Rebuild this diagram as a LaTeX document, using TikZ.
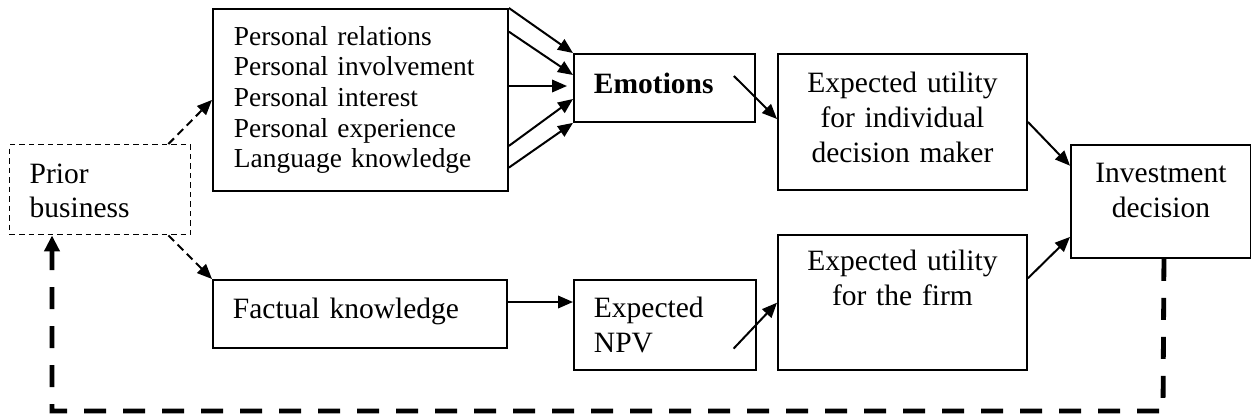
\documentclass[tikz,border=0pt]{standalone}
\usepackage{fontspec}
\setmainfont{Liberation Serif}
\usetikzlibrary{arrows.meta}
\newcommand{\mainfs}{\fontsize{29.5}{34.7}\selectfont}
\newcommand{\listfs}{\fontsize{27.4}{30.6}\selectfont}
\tikzset{
  box/.style={draw, line width=1.9pt, anchor=north west, inner ysep=0pt, font=\mainfs},
  dbox/.style={box, line width=1.4pt, dash pattern=on 5.5pt off 4pt},
  arr/.style={line width=2pt, -{Triangle[length=15pt,width=12.5pt]}},
  darr/.style={arr, dash pattern=on 8pt off 5pt},
  fb/.style={line width=4.8pt, dash pattern=on 22pt off 17pt, -{Triangle[length=16pt,width=15pt]}}
}
\begin{document}
\begin{tikzpicture}[x=1pt,y=-1pt]
\useasboundingbox (0,0) rectangle (1251,418);
% boxes
\node[box, font=\listfs, inner xsep=21pt, text width=253pt, align=left, text height=36.3pt, text depth=145.7pt] (pers) at (212,8)
  {Personal relations\\Personal involvement\\Personal interest\\Personal experience\\Language knowledge};
\node[box, inner xsep=20pt, text width=141pt, align=left, text height=39.7pt, text depth=28.3pt] (emo) at (573,53)
  {\textbf{Emotions}};
\node[box, inner xsep=10pt, text width=229pt, align=center, text height=38.7pt, text depth=97.3pt] (ind) at (777,53)
  {Expected utility\\for individual\\decision maker};
\node[box, inner xsep=10pt, text width=160pt, align=center, text height=37.7pt, text depth=75.3pt] (inv) at (1070,144)
  {Investment\\decision};
\node[box, inner xsep=10pt, text width=229pt, align=center, text height=36pt, text depth=99pt] (firm) at (777,234)
  {Expected utility\\for the firm};
\node[box, inner xsep=20pt, text width=142pt, align=left, text height=37.7pt, text depth=52.3pt] (npv) at (573,279)
  {Expected\\NPV};
\node[box, inner xsep=20pt, text width=254pt, align=left, text height=38.3pt, text depth=29.7pt] (fact) at (212,279)
  {Factual knowledge};
\node[dbox, inner xsep=20pt, text width=141pt, align=left, text height=38.3pt, text depth=51.7pt] (prior) at (9,144)
  {Prior\\business};
% dashed arrows from prior business
\draw[darr] ([xshift=-23pt]prior.north east) -- (pers.west);
\draw[darr] ([xshift=-23pt]prior.south east) -- (fact.north west);
% personal factors to emotions
\draw[arr] (pers.north east) -- (emo.north west);
\draw[arr] ([yshift=-23.7pt]pers.north east) -- ([yshift=-22pt]emo.north west);
\draw[arr] ([yshift=-78pt]pers.north east) -- ([xshift=-6pt,yshift=-33pt]emo.north west);
\draw[arr] ([yshift=46pt]pers.south east) -- ([yshift=-46pt]emo.north west);
\draw[arr] ([yshift=24.3pt]pers.south east) -- (emo.south west);
% emotions to utility
\draw[arr] ([xshift=-22pt,yshift=-23pt]emo.north east) -- ([yshift=-66pt]ind.north west);
\draw[arr] (ind.east) -- ([yshift=-21.7pt]inv.north west);
\draw[arr] ([yshift=-44.3pt]firm.north east) -- ([yshift=22pt]inv.south west);
\draw[arr] ([xshift=-23.3pt,yshift=22.3pt]npv.south east) -- ([yshift=-68.7pt]firm.north west);
\draw[arr] ([yshift=-23pt]fact.north east) -- ([yshift=-23pt]npv.north west);
% feedback loop
\coordinate (fbR) at (1163,411);
\coordinate (fbL) at (52,411);
\draw[fb] ([xshift=3pt]inv.south) -- (fbR) -- (fbL) -- (prior.south -| fbL);
\end{tikzpicture}
\end{document}
